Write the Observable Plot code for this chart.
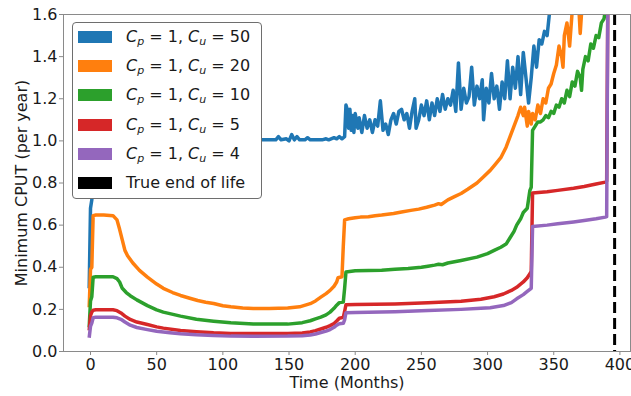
<!DOCTYPE html>
<html>
<head>
<meta charset="utf-8">
<script src="https://cdn.jsdelivr.net/npm/d3@7"></script>
<script src="https://cdn.jsdelivr.net/npm/@observablehq/plot@0.6"></script>
<style>
  body { margin: 0; background: #fff; }
  #wrap { position: relative; width: 631px; height: 396px; font-family: "DejaVu Sans", sans-serif; }
  #legend { position: absolute; left: 72px; top: 22px; width: 188px; height: 175px;
            background: #fff; border: 1px solid #6e6e6e; border-radius: 4px; }
  .row { position: absolute; left: 0; height: 20px; width: 188px; }
  .sw { position: absolute; left: 5px; top: 4px; width: 34px; height: 12px; }
  .lab { position: absolute; left: 53px; top: 0; font-size: 16px; line-height: 20px; color: #1a1a1a; white-space: nowrap; }
  .lab sub { font-size: 11px; font-style: italic; vertical-align: -3px; line-height: 0; }
</style>
</head>
<body>
<div id="wrap"><div id="chart"></div><div id="legend"></div></div>
<script>
// ---- data ----
const labels = ["Cu = 50", "Cu = 20", "Cu = 10", "Cu = 5", "Cu = 4"];
const cuValues = [50, 20, 10, 5, 4];
const colors = ["#1f77b4", "#ff7f0e", "#2ca02c", "#d62728", "#9467bd"];
const endOfLife = 396;

const cu50_t = [-1,0,1,2,3,5,10,50,100,130,140,142,144,148,150,152,154,156,158,162,164,166,175,178,180,184,186,188,190,192,193,194,195,196,197,198,199,200,202,203,205,207,209,211,213,215,217,219,221,223,225,227,229,231,233,235,237,239,241,243,245,246,248,250,252,254,256,258,260,262,264,266,268,270,272,274,276,278,280,282,284,286,288,290,292,294,296,297,299,301,303,305,307,309,311,313,315,317,319,321,323,325,327,329,331,333,335,337,339,341,343,345,347,349];
const cu50_v = [0.30,0.68,0.72,0.85,0.95,1.0,1.0,1.0,1.0,1.005,1.005,1.02,1.005,1.01,1.0,1.03,1.005,1.02,1.005,1.005,1.015,1.005,1.005,1.01,1.005,1.015,1.01,1.02,1.01,1.02,1.17,1.15,1.06,1.15,1.05,1.12,1.04,1.13,1.06,1.11,1.04,1.12,1.06,1.10,1.04,1.10,1.07,1.19,1.05,1.08,1.03,1.10,1.13,1.08,1.14,1.15,1.10,1.13,1.06,1.14,1.20,1.06,1.10,1.17,1.12,1.19,1.10,1.18,1.12,1.20,1.14,1.22,1.15,1.20,1.17,1.24,1.14,1.37,1.15,1.25,1.18,1.21,1.35,1.17,1.26,1.20,1.29,1.10,1.25,1.18,1.32,1.20,1.26,1.15,1.28,1.20,1.38,1.20,1.35,1.25,1.40,1.22,1.42,1.30,1.18,1.30,1.45,1.35,1.48,1.46,1.52,1.50,1.62,1.75];

const cu20_t = [-1,0,1,2,4,10,17,20,22,24,26,28,32,37,43,50,55,62,68,75,81,87,93,100,106,115,123,135,149,158,166,170,174,178,181,184,186,187,190,191,192,195,200,204,210,215,220,229,235,242,248,254,260,263,265,270,275,280,285,292,297,302,306,310,314,317,320,323,325,327,328,330,331,333,334,336,338,340,342,344,346,348,350,352,354,356,357,358,360,362,364,366,368,370,372,375];
const cu20_v = [0.21,0.39,0.40,0.645,0.648,0.648,0.645,0.625,0.58,0.53,0.48,0.455,0.42,0.385,0.353,0.32,0.30,0.28,0.266,0.253,0.242,0.234,0.228,0.217,0.212,0.207,0.204,0.204,0.206,0.212,0.227,0.24,0.258,0.275,0.29,0.31,0.33,0.35,0.355,0.50,0.625,0.63,0.635,0.638,0.64,0.645,0.648,0.655,0.662,0.67,0.676,0.685,0.695,0.702,0.698,0.72,0.735,0.75,0.77,0.80,0.83,0.86,0.89,0.92,0.97,1.02,1.07,1.12,1.16,1.12,1.16,1.07,1.14,1.08,1.13,1.10,1.17,1.13,1.20,1.18,1.25,1.27,1.32,1.36,1.45,1.40,1.35,1.50,1.56,1.45,1.62,1.70,1.75,1.51,1.70,1.85];

const cu10_t = [-1,0,1,2,4,17,20,22,24,27,30,35,43,50,55,68,80,93,106,123,149,160,166,170,174,178,181,184,186,188,191,192,193,200,210,220,230,240,250,255,260,263,266,270,280,292,300,305,310,314,317,320,322,325,327,330,332,333,334,336,338,340,342,344,346,348,350,352,354,356,358,360,362,364,366,368,370,371,372,374,376,378,380,382,384,386,388,389,390];
const cu10_v = [0.115,0.24,0.26,0.353,0.355,0.355,0.346,0.33,0.30,0.28,0.265,0.245,0.218,0.198,0.187,0.168,0.153,0.144,0.136,0.13,0.13,0.137,0.146,0.155,0.163,0.174,0.187,0.205,0.22,0.232,0.235,0.30,0.377,0.383,0.385,0.386,0.39,0.394,0.40,0.405,0.41,0.414,0.412,0.42,0.432,0.448,0.465,0.48,0.495,0.51,0.54,0.57,0.60,0.63,0.66,0.68,0.765,0.78,1.05,1.07,1.09,1.09,1.10,1.12,1.11,1.14,1.13,1.17,1.16,1.20,1.18,1.24,1.21,1.28,1.26,1.33,1.30,1.24,1.34,1.40,1.38,1.46,1.44,1.50,1.49,1.56,1.58,1.62,1.70];

const cu5_t = [-1,0,1,2,4,17,20,23,26,30,35,43,50,55,68,80,93,106,123,149,160,166,170,174,178,181,184,186,188,191,192,193,200,230,255,280,295,305,312,318,322,327,330,332,333,334,345,353,365,373,382,389,390,391];
const cu5_v = [0.10,0.17,0.187,0.196,0.198,0.198,0.194,0.183,0.168,0.152,0.14,0.128,0.117,0.111,0.10,0.094,0.089,0.086,0.085,0.086,0.088,0.093,0.099,0.107,0.115,0.123,0.133,0.145,0.158,0.162,0.19,0.222,0.223,0.226,0.231,0.239,0.248,0.26,0.273,0.29,0.305,0.33,0.35,0.37,0.38,0.752,0.758,0.765,0.775,0.783,0.795,0.804,0.81,1.8];

const cu4_t = [-1,0,1,2,4,17,20,23,26,30,35,43,50,60,68,80,93,106,123,149,160,166,170,174,178,181,184,186,188,191,192,193,200,230,255,280,295,302,312,318,322,327,330,333,334,345,353,365,373,382,389,390,391];
const cu4_v = [0.065,0.12,0.135,0.16,0.163,0.163,0.16,0.153,0.14,0.125,0.114,0.104,0.096,0.089,0.084,0.079,0.076,0.073,0.072,0.073,0.075,0.078,0.083,0.09,0.097,0.104,0.115,0.125,0.132,0.134,0.15,0.184,0.185,0.189,0.195,0.20,0.205,0.208,0.218,0.232,0.25,0.27,0.285,0.30,0.594,0.60,0.606,0.615,0.622,0.63,0.638,0.64,1.8];

const xTicks = [0, 50, 100, 150, 200, 250, 300, 350, 400];
const yTicks = [0.0, 0.2, 0.4, 0.6, 0.8, 1.0, 1.2, 1.4, 1.6];

// ---- build ----
const seriesT = [cu50_t, cu20_t, cu10_t, cu5_t, cu4_t];
const seriesV = [cu50_v, cu20_v, cu10_v, cu5_v, cu4_v];
const rows = [];
seriesT.forEach((ts, i) => ts.forEach((t, j) => rows.push({t, v: seriesV[i][j], s: labels[i]})));

const grey = "#8a8a8a";
const chart = Plot.plot({
  width: 631, height: 396,
  marginLeft: 63, marginRight: 1, marginTop: 14, marginBottom: 45,
  style: { fontFamily: "DejaVu Sans, sans-serif", fontSize: "16px", color: "#1a1a1a", background: "#fff", overflow: "visible" },
  x: { domain: [-20.4, 408] },
  y: { domain: [0, 1.6] },
  marks: [
    Plot.axisX({ ticks: xTicks, tickSize: 4, tickPadding: 3, stroke: grey, label: null, fontSize: 16, fill: "#1a1a1a" }),
    Plot.axisY({ ticks: yTicks, tickSize: 4, tickPadding: 2, stroke: grey, label: null, fontSize: 16, fill: "#1a1a1a", tickFormat: d3.format(".1f") }),
    ...labels.map((lab, i) => Plot.line(rows.filter(d => d.s === lab), {
      x: "t", y: "v", stroke: colors[i], strokeWidth: 3.5, strokeLinejoin: "round", strokeLinecap: "butt", clip: true
    })),
    Plot.ruleX([endOfLife], { stroke: "black", strokeWidth: 3, strokeDasharray: "11,5" }),
    Plot.frame({ stroke: grey, strokeWidth: 1 }),
    Plot.text(["Time (Months)"], { frameAnchor: "bottom", dy: 31, lineAnchor: "middle", textAnchor: "middle", fontSize: 16, fill: "#1a1a1a" }),
    Plot.text(["Minimum CPUT (per year)"], { frameAnchor: "left", dx: -42, rotate: -90, textAnchor: "middle", lineAnchor: "middle", fontSize: 16, fill: "#1a1a1a" })
  ]
});
document.getElementById("chart").appendChild(chart);

// ---- legend ----
const legend = document.getElementById("legend");
const legendItems = cuValues.map((c, i) => ({ color: colors[i], html: `<i>C</i><sub>p</sub> = 1, <i>C</i><sub>u</sub> = ${c}` }));
legendItems.push({ color: "#000", html: "True end of life" });
legendItems.forEach((it, i) => {
  const r = document.createElement("div");
  r.className = "row";
  r.style.top = (4 + 29.2 * i) + "px";
  r.innerHTML = `<div class="sw" style="background:${it.color}"></div><div class="lab">${it.html}</div>`;
  legend.appendChild(r);
});
</script>
</body>
</html>
